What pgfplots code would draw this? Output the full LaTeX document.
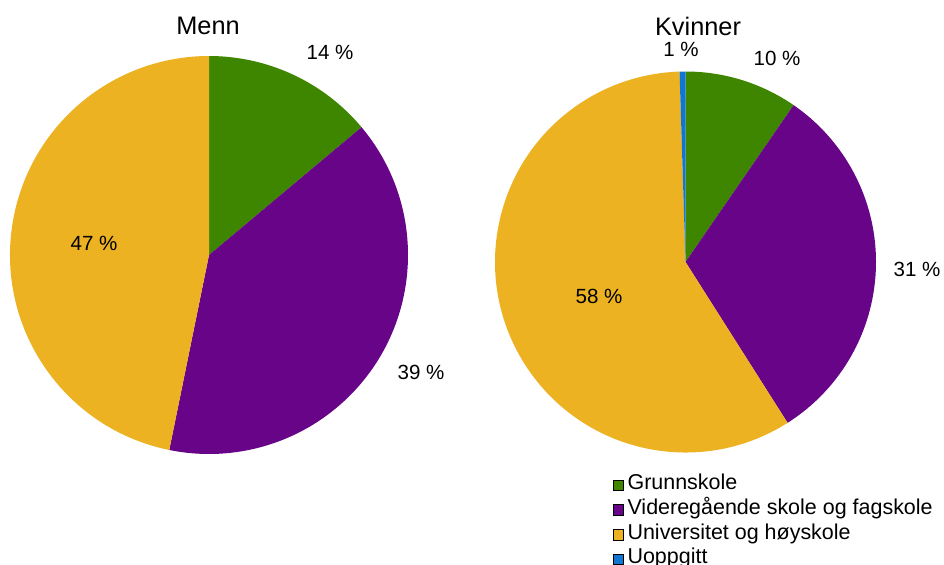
\documentclass[border=0pt]{standalone}
\usepackage{pgfplots}
\usepackage{pgfplotstable}
\pgfplotsset{compat=1.18}
\usepackage{fontspec}
\setmainfont{Liberation Sans}

\definecolor{grn}{RGB}{62,134,0}
\definecolor{pur}{RGB}{103,4,135}
\definecolor{yel}{RGB}{236,178,33}
\definecolor{blu}{RGB}{16,118,208}

% share in percent, colour, shown value, label centre (px from top left)
\pgfplotstableread{
share col pct lx ly
13.9 grn 14 330 52
39.3 pur 39 421 372
46.8 yel 47 94 243
}\menn
\pgfplotstableread{
share col pct lx ly
9.6 grn 10 777 58
31.4 pur 31 917 269
58.5 yel 58 599 296
0.5 blu 1 681 49
}\kvinner

% #1 table, #2 #3 centre, #4 radius (all in px)
\newcommand\drawpie[4]{%
  \pgfplotstablegetrowsof{#1}%
  \pgfmathtruncatemacro\nrows{\pgfplotsretval-1}%
  \xdef\cum{90}%
  \foreach \i in {0,...,\nrows}{%
    \pgfplotstablegetelem{\i}{share}\of{#1}\let\sh\pgfplotsretval
    \pgfplotstablegetelem{\i}{col}\of{#1}\let\cl\pgfplotsretval
    \pgfmathsetmacro\en{\cum-3.6*\sh}%
    \fill[\cl] (axis cs:#2,#3) -- ++(\cum:#4*0.75pt)
      arc[start angle=\cum, end angle=\en, radius=#4*0.75pt] -- cycle;
    \xdef\cum{\en}%
  }%
  \foreach \i in {0,...,\nrows}{%
    \pgfplotstablegetelem{\i}{pct}\of{#1}\let\pc\pgfplotsretval
    \pgfplotstablegetelem{\i}{lx}\of{#1}\let\lx\pgfplotsretval
    \pgfplotstablegetelem{\i}{ly}\of{#1}\let\ly\pgfplotsretval
    \node[font=\lblfont] at (axis cs:\lx,\ly) {\pc~\%};
  }%
}
\newcommand\lblfont{\fontsize{15.4}{18}\selectfont}

\begin{document}
\begin{tikzpicture}
\begin{axis}[
  name=ax,
  x=0.75pt, y=0.75pt, y dir=reverse,
  xmin=0, xmax=944, ymin=0, ymax=564,
  hide axis, clip=false,
  legend style={at={(axis cs:612.5,473)}, anchor=north west, draw=none, fill=none,
    font=\fontsize{16.1}{18}\selectfont, inner sep=0pt, row sep=0.5pt,
    nodes={inner sep=0pt, text height=12.5pt, text depth=5.5pt}},
  legend cell align=left,
  legend image code/.code={\fill[#1] (0pt,-4pt) rectangle (8pt,4pt);},
]
\pgfplotsextra{%
  \drawpie{\menn}{209}{255}{199}%
  \drawpie{\kvinner}{685.5}{262}{190.5}%
  \node[font=\fontsize{19}{22}\selectfont] at (axis cs:208,26) {Menn};
  \node[font=\fontsize{19}{22}\selectfont] at (axis cs:698,26) {Kvinner};
}
\addlegendimage{fill=grn}\addlegendentry{\,Grunnskole}
\addlegendimage{fill=pur}\addlegendentry{\,Videregående skole og fagskole}
\addlegendimage{fill=yel}\addlegendentry{\,Universitet og høyskole}
\addlegendimage{fill=blu}\addlegendentry{\,Uoppgitt}
\end{axis}
\pgfresetboundingbox
\path (ax.south west) rectangle (ax.north east);
\end{tikzpicture}
\end{document}
